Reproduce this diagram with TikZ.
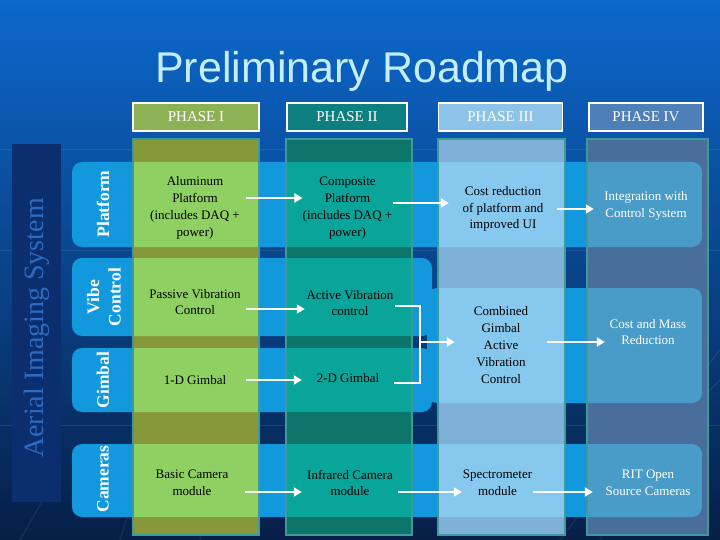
\documentclass[tikz,border=0pt]{standalone}
\usepackage{fontspec}
\setmainfont{Liberation Serif}
\newfontfamily\titlefont{Liberation Sans}
\usetikzlibrary{arrows.meta}
\definecolor{bgtop}{HTML}{0C68CC}
\definecolor{bgmid}{HTML}{0857B0}
\definecolor{bgbot}{HTML}{061F48}
\definecolor{bandc}{HTML}{1198DD}
\definecolor{aerialbar}{HTML}{0B2E6E}
\definecolor{aerialtxt}{HTML}{2E6BC0}
\definecolor{titlec}{HTML}{C4EEFF}
\definecolor{hI}{HTML}{8DB255}
\definecolor{hII}{HTML}{0E7F80}
\definecolor{hIII}{HTML}{8DC3E8}
\definecolor{hIV}{HTML}{4F7FB8}
\definecolor{cIl}{HTML}{8ED062}
\definecolor{cId}{HTML}{86983A}
\definecolor{cIIl}{HTML}{0AA59A}
\definecolor{cIId}{HTML}{0C7468}
\definecolor{cIIIl}{HTML}{86C8EE}
\definecolor{cIIId}{HTML}{7EB0D8}
\definecolor{cIVl}{HTML}{4A9CC8}
\definecolor{cIVd}{HTML}{4A6E9C}
\definecolor{colborder}{HTML}{3E9A98}
\newcommand{\bandfill}[1]{%
  \fill[#1,rounded corners=10pt]
    (72,162) rectangle (702,247)
    (72,258) rectangle (432,336)
    (72,348) rectangle (432,412)
    (427,288) rectangle (702,403)
    (72,444) rectangle (702,517);}
\newcommand{\phasecol}[4]{% x1 x2 dark light
  \fill[#3] (#1,139) rectangle (#2,535);
  \begin{scope}
    \clip (#1,139) rectangle (#2,535);
    \bandfill{#4}
  \end{scope}
  \draw[colborder,line width=1.4pt] (#1,139) rectangle (#2,535);}
\tikzset{
  header/.style={draw=white,line width=1.2pt,minimum height=28pt,inner sep=0pt,
    text=white,font=\fontsize{15}{18}\selectfont},
  rowlabel/.style={rotate=90,text=white,align=center,inner sep=0pt,
    font=\bfseries\fontsize{17.5}{21.5}\selectfont},
  txt/.style={align=center,inner sep=0pt,minimum height=10pt,text=black,
    font=\fontsize{13}{16.8}\selectfont},
  wtxt/.style={txt,text=white},
  arr/.style={draw=white,line width=2.3pt,-{Triangle[length=8pt,width=9pt]}},
  conn/.style={draw=white,line width=2.3pt}
}
\begin{document}
\begin{tikzpicture}[x=1pt,y=-1pt]
\useasboundingbox (0,0) rectangle (720,540);
% background
\shade[top color=bgtop,middle color=bgmid,bottom color=bgbot] (0,0) rectangle (720,540);
\begin{scope}[white,opacity=0.08,line width=1pt]
  \draw (0,150) -- (720,150);
  \draw (0,250) -- (720,250);
  \draw (0,425) -- (720,425);
  \draw (120,540) -- (170,380);
  \draw (200,540) -- (240,420);
  \draw (600,540) .. controls (640,470) and (680,420) .. (720,380);
  \draw (560,540) .. controls (620,460) and (680,400) .. (720,350);
  \draw (20,540) -- (60,470);
\end{scope}
% title
\node (title) [anchor=base,inner sep=0pt,text=titlec,font=\titlefont\fontsize{43}{48}\selectfont] at (362,83) {Preliminary Roadmap};
% aerial bar
\fill[aerialbar] (12,144) rectangle (61,502);
\node (aerial) [rotate=90,text=aerialtxt,font=\fontsize{28}{32}\selectfont] at (37,328) {Aerial Imaging System};
% bands
\bandfill{bandc}
% columns
\phasecol{133}{259}{cId}{cIl}
\phasecol{286}{412}{cIId}{cIIl}
\phasecol{438}{565}{cIIId}{cIIIl}
\phasecol{587}{708}{cIVd}{cIVl}
% headers
\node (h1) [header,fill=hI,minimum width=126pt] at (196,117) {PHASE I};
\node (h2) [header,fill=hII,minimum width=120pt] at (347,117) {PHASE II};
\node (h3) [header,fill=hIII,minimum width=124pt] at (500.5,117) {PHASE III};
\node (h4) [header,fill=hIV,minimum width=114pt] at (646,117) {PHASE IV};
% row labels
\node (lp) [rowlabel] at (103,204) {Platform};
\node (lv) [rowlabel] at (104,297) {Vibe\\Control};
\node (lg) [rowlabel] at (103,380) {Gimbal};
\node (lc) [rowlabel] at (103,479) {Cameras};
% phase I
\node (a1) [txt,minimum width=102pt] at (195,208) {Aluminum\\Platform\\(includes DAQ +\\power)};
\node (a2) [txt,minimum width=102pt] at (195,302) {Passive Vibration\\Control};
\node (a3) [txt,minimum width=102pt] at (195,380) {1-D Gimbal};
\node (a4) [txt,minimum width=106pt] at (192,483) {Basic Camera\\module};
% phase II
\node (b1) [txt,minimum width=85pt] at (347.5,208) {Composite\\Platform\\(includes DAQ +\\power)};
\node (b2) [txt,minimum width=90pt] at (350,303) {Active Vibration\\control};
\node (b3) [txt,minimum width=92pt] at (348,378) {2-D Gimbal};
\node (b4) [txt,minimum width=96pt] at (350,483) {Infrared Camera\\module};
% phase III
\node (c1) [txt,minimum width=108pt] at (503,209) {Cost reduction\\of platform and\\improved UI};
\node (c2) [txt,minimum width=92pt] at (501,345) {Combined\\Gimbal\\Active\\Vibration\\Control};
\node (c3) [txt,minimum width=71pt] at (497.5,483) {Spectrometer\\module};
% phase IV
\node (d1) [wtxt,minimum width=104pt] at (646,206) {Integration with\\Control System};
\node (d2) [wtxt,minimum width=86pt] at (648,332) {Cost and Mass\\Reduction};
\node (d3) [wtxt,minimum width=110pt] at (648,483) {RIT Open\\Source Cameras};
% connectors
\draw[arr] ([yshift=10pt]a1.east) -- ([yshift=10pt]b1.west);
\draw[arr] ([yshift=5pt]b1.east) -- ([yshift=5pt]b1.east -| c1.west);
\draw[arr] (c1.east) -- (c1.east -| d1.west);
\draw[arr] ([yshift=-7pt]a2.east) -- ([yshift=-7pt]a2.east -| b2.west);
\draw[arr] (a3.east) -- (a3.east -| b3.west);
\draw[arr] ([yshift=-9pt]a4.east) -- ([yshift=-9pt]a4.east -| b4.west);
\coordinate (j) at (420,342);
\draw[conn] ([yshift=-3pt]b2.east) -| (j);
\draw[conn] ([yshift=-5pt]b3.east) -| (j);
\draw[arr] (j) -- (j -| c2.west);
\draw[arr] ([yshift=3pt]c2.east) -- ([yshift=3pt]c2.east -| d2.west);
\draw[arr] ([yshift=-9pt]b4.east) -- ([yshift=-9pt]b4.east -| c3.west);
\draw[arr] ([yshift=-9pt]c3.east) -- ([yshift=-9pt]c3.east -| d3.west);
\end{tikzpicture}
\end{document}
